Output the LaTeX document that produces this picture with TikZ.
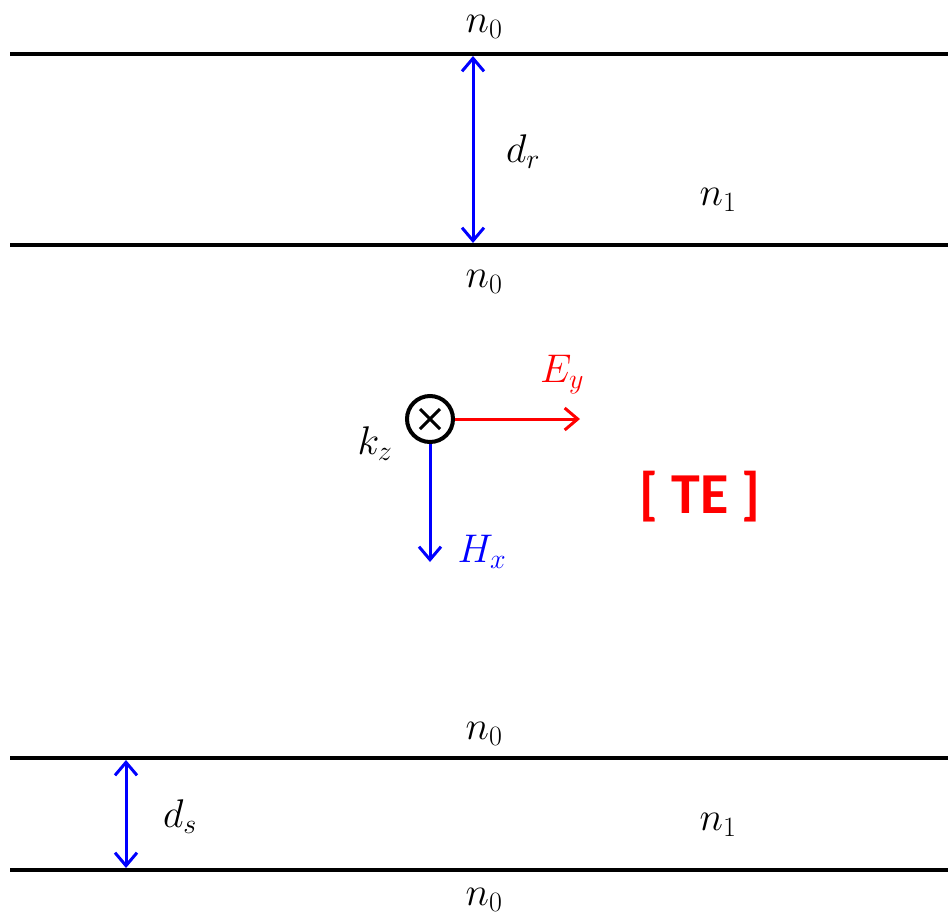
\RequirePackage{fix-cm}
\documentclass[tikz,border=0pt]{standalone}
\usepackage{fontspec}
\newfontfamily\tefont{Carlito}[Scale=1]
\usetikzlibrary{arrows.meta,calc}
\begin{document}
\begin{tikzpicture}[x=1pt,y=-1pt,
  layer/.style={line width=4pt,black},
  dimarrow/.style={line width=3pt,blue,{Straight Barb[length=13pt,width=22pt,line width=3pt]}-{Straight Barb[length=13pt,width=22pt,line width=3pt]}},
  field/.style={line width=3pt,-{Straight Barb[length=13pt,width=22pt,line width=3pt]}},
  lbl/.style={font=\fontsize{40}{44}\selectfont,inner sep=0pt}]
\useasboundingbox (0,0) rectangle (948,919);
% layer boundaries
\coordinate (t1l) at (10,54);  \coordinate (t1r) at (948,54);
\coordinate (t2l) at (10,245); \coordinate (t2r) at (948,245);
\coordinate (b1l) at (10,758); \coordinate (b1r) at (948,758);
\coordinate (b2l) at (10,870); \coordinate (b2r) at (948,870);
\draw[layer] (t1l) -- (t1r);
\draw[layer] (t2l) -- (t2r);
\draw[layer] (b1l) -- (b1r);
\draw[layer] (b2l) -- (b2r);
% labels
\node[lbl] (n0a) at (484,27) {$n_0$};
\node[lbl] (n0b) at (484,282) {$n_0$};
\node[lbl] (n1a) at (718,200) {$n_1$};
\node[lbl] (n0c) at (484,734) {$n_0$};
\node[lbl] (n1b) at (718,825) {$n_1$};
\node[lbl] (n0d) at (484,900) {$n_0$};
% dimension arrows
\coordinate (drt) at (473,56); \coordinate (drb) at (473,243);
\draw[dimarrow] (drt) -- (drb);
\node[lbl] (dr) at (523,152) {$d_r$};
\coordinate (dst) at (126,760); \coordinate (dsb) at (126,868);
\draw[dimarrow] (dst) -- (dsb);
\node[lbl] (ds) at (180,817) {$d_s$};
% k_z symbol
\node[circle,draw,line width=4pt,minimum size=46pt,inner sep=0pt] (kz) at (430,419) {};
\draw[line width=3pt] ($(kz.center)+(-10,-10)$) -- ($(kz.center)+(10,10)$)
  ($(kz.center)+(-10,10)$) -- ($(kz.center)+(10,-10)$);
\node[lbl] (kzl) at (375,444) {$k_z$};
\coordinate (ey) at (580,419);
\draw[field,red] (kz.east) -- (ey);
\node[lbl,red] (eyl) at (562,375) {$E_y$};
\coordinate (hx) at (430,562);
\draw[field,blue] (kz.south) -- (hx);
\node[lbl,blue] (hxl) at (482,552) {$H_x$};
\node[red,inner sep=0pt,font=\tefont\bfseries\fontsize{58}{62}\selectfont] (te) at (700,497) {[ TE ]};
\end{tikzpicture}
\end{document}
